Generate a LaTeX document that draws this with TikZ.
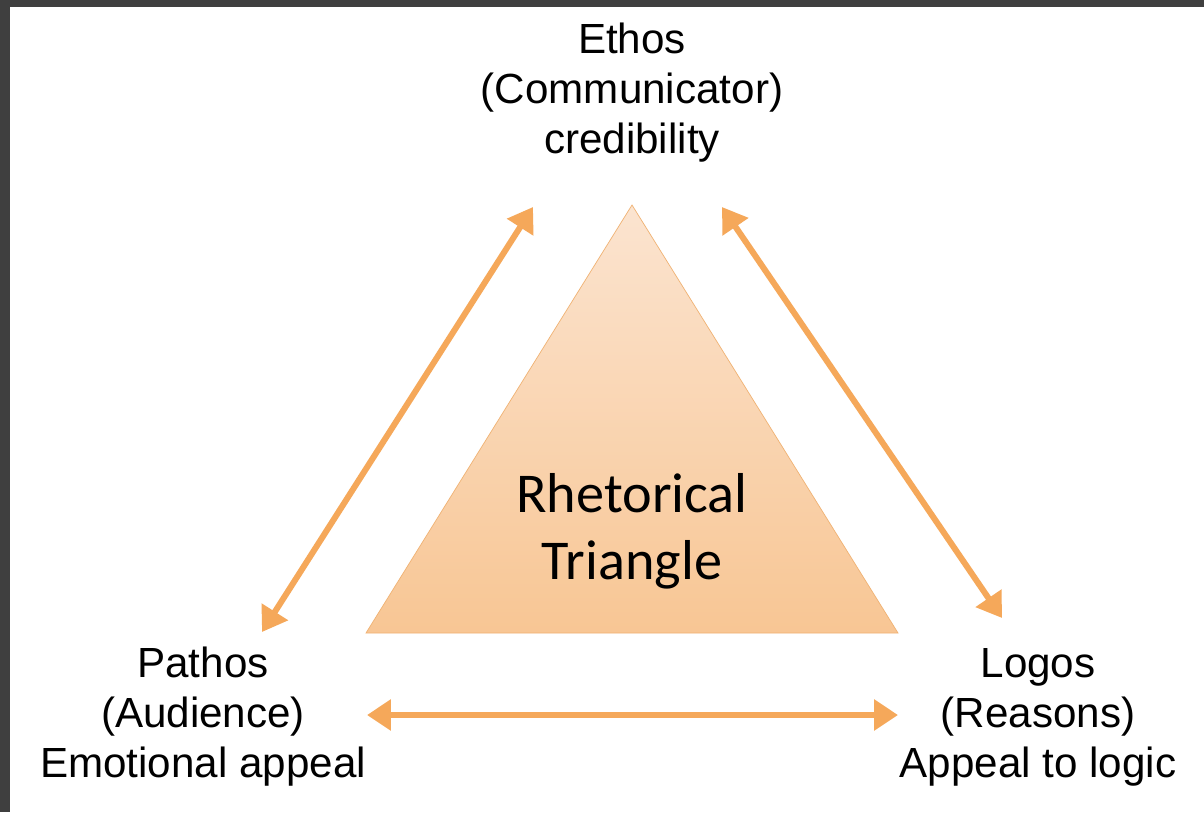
\documentclass[tikz,border=0pt]{standalone}
\usepackage{fontspec}
\setmainfont{Liberation Sans}
\newfontfamily\carlito{Carlito}
\usepackage{xcolor}
\usetikzlibrary{arrows.meta,positioning}

\definecolor{framegray}{RGB}{63,63,63}
\definecolor{arroworange}{RGB}{245,168,90}
\definecolor{triedge}{RGB}{240,178,115}
\definecolor{tritop}{RGB}{251,228,208}
\definecolor{tribottom}{RGB}{248,198,148}

\begin{document}
\begin{tikzpicture}[
    x=0.02cm, y=-0.02cm,
    label/.style={align=center, font=\fontsize{24}{28.5}\selectfont, inner sep=0pt},
    arrow/.style={{Triangle[width=0.6cm,length=0.48cm]}-{Triangle[width=0.6cm,length=0.48cm]}, line width=0.12cm, arroworange}
]
    % Frame
    \fill[framegray] (0,0) rectangle (1204,812);
    \fill[white] (10,7) rectangle (1204,812);
    \useasboundingbox (0,0) rectangle (1204,812);

    % Triangle
    \path[draw=triedge, top color=tritop, bottom color=tribottom] (632,205) -- (898,633) -- (366,633) -- cycle;
    \node[align=center, font=\carlito\fontsize{32}{38}\selectfont, inner sep=0pt] (rhet) at (632,531) {Rhetorical\\Triangle};

    % Corner labels
    \node[label] (ethos) at (632,93) {Ethos\\(Communicator)\\credibility};
    \node[label] (pathos) at (203,717) {Pathos\\(Audience)\\Emotional appeal};
    \node[label] (logos) at (1038,717) {Logos\\(Reasons)\\Appeal to logic};

    % Arrow ends
    \coordinate (ethosL) at (533,207);
    \coordinate (ethosR) at (722,207);
    \coordinate (pathosT) at (262,632);
    \coordinate (pathosR) at (367,715);
    \coordinate (logosT) at (1002,618);
    \coordinate (logosL) at (898,715);

    % Arrows
    \draw[arrow] (pathosT) -- (ethosL);
    \draw[arrow] (ethosR) -- (logosT);
    \draw[arrow] (pathosR) -- (logosL);
\end{tikzpicture}
\end{document}
